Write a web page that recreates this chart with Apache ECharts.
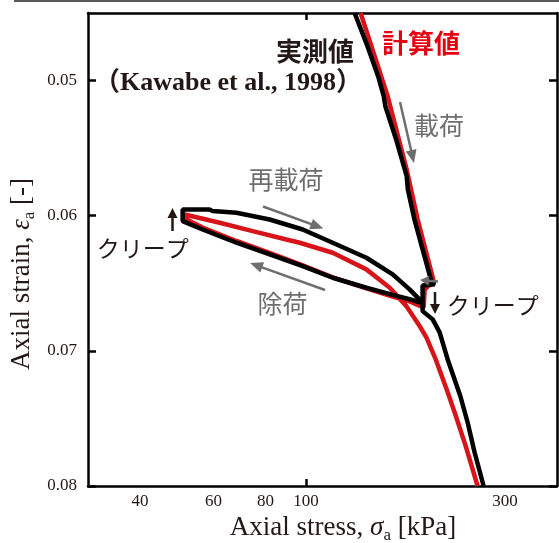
<!DOCTYPE html>
<html><head><meta charset="utf-8">
<script src="https://cdn.jsdelivr.net/npm/echarts@6/dist/echarts.min.js"></script>
<style>html,body{margin:0;padding:0;background:#fff}#c{width:559px;height:543px}</style>
</head><body><div id="c"></div>
<script>
// Tick labels
const xTickLabels = [40, 60, 80, 100, 300];
const xTickMarks = [100];
const yTickLabels = [0.05, 0.06, 0.07, 0.08];

// 実測値 (Kawabe et al., 1998): axial stress [kPa], axial strain [-]
const measuredStress = [130.8, 140.5, 149.0, 153.6, 155.0, 164.5, 174.4, 175.5, 182.0, 190.4, 199.8, 203.5, 190.4, 190.4,
  177.2, 161.4, 139.6, 115.9, 98.2, 81.8, 68.1, 56.5, 50.6,
  50.6,
  58.7, 59.7, 68.1, 81.8, 98.2, 115.9, 139.6, 161.4, 177.2, 187.3, 190.4,
  190.4, 201.3, 209.2, 218.6, 234.5, 244.2, 253.8, 266.7];
const measuredStrain = [0.04500, 0.04747, 0.04969, 0.05116, 0.05190, 0.05436, 0.05708, 0.05806, 0.06028, 0.06249, 0.06484, 0.06508, 0.06516, 0.06649,
  0.06618, 0.06586, 0.06533, 0.06459, 0.06373, 0.06286, 0.06200, 0.06102, 0.06040,
  0.05954,
  0.05954, 0.05966, 0.05978, 0.06028, 0.06102, 0.06200, 0.06311, 0.06434, 0.06545, 0.06621, 0.06656,
  0.06706, 0.06767, 0.06863, 0.07062, 0.07334, 0.07530, 0.07752, 0.08000];

// 計算値
const computedStress = [135.2, 157.0, 174.4, 185.3, 201.3,
  202.4, 192.6, 191.5,
  177.2, 161.4, 139.6, 115.9, 98.2, 81.8, 68.1, 56.5, 51.2,
  51.2,
  62.1, 74.5, 89.7, 96.6, 115.9, 139.6, 158.8, 174.1, 187.3, 194.4, 204.6, 217.4, 227.2, 241.5, 258.0];
const computedStrain = [0.04500, 0.05116, 0.05658, 0.06028, 0.06456,
  0.06486, 0.06545, 0.06678,
  0.06634, 0.06599, 0.06538, 0.06456, 0.06368, 0.06275, 0.06187, 0.06087, 0.06020,
  0.05991,
  0.06052, 0.06114, 0.06176, 0.06200, 0.06274, 0.06397, 0.06533, 0.06669, 0.06816, 0.06900, 0.07062, 0.07284, 0.07454, 0.07703, 0.08000];

const measured = measuredStress.map((s, i) => [s, measuredStrain[i]]);
const computed = computedStress.map((s, i) => [s, computedStrain[i]]);

const serif = "'Liberation Serif', 'DejaVu Serif', serif";
const jp = "'Noto Sans CJK JP', 'Noto Sans', sans-serif";
const dark = '#231815';
const grey = '#6e6e6e';

const axisLineStyle = { color: '#000', width: 2.5 };
const xBase = {
  type: 'log', logBase: 10, min: 30, max: 400,
  axisLine: { show: true, onZero: false, lineStyle: axisLineStyle },
  axisTick: { show: true, inside: true, length: 7, customValues: xTickMarks, lineStyle: axisLineStyle },
  minorTick: { show: false }, splitLine: { show: false }, minorSplitLine: { show: false }
};
const yBase = {
  type: 'value', inverse: true, min: 0.045, max: 0.08,
  axisLine: { show: true, onZero: false, lineStyle: axisLineStyle },
  axisTick: { show: true, inside: true, length: 8, customValues: yTickLabels, lineStyle: axisLineStyle },
  splitLine: { show: false }
};

function arrow(x1, y1, x2, y2, color, w, hl, hw) {
  const dx = x2 - x1, dy = y2 - y1, L = Math.hypot(dx, dy);
  const ux = dx / L, uy = dy / L, nx = -uy, ny = ux;
  const bx = x2 - hl * ux, by = y2 - hl * uy;
  return [
    { type: 'line', shape: { x1, y1, x2: bx + ux, y2: by + uy }, style: { stroke: color, lineWidth: w }, z: 100 },
    { type: 'polygon', shape: { points: [[x2, y2], [bx + hw * nx, by + hw * ny], [bx - hw * nx, by - hw * ny]] }, style: { fill: color }, z: 100 }
  ];
}
function txt(x, y, text, size, fill, family, weight, align) {
  return { type: 'text', x, y, z: 100, style: { text, fontSize: size, fill, fontFamily: family, fontWeight: weight || 'normal', align: align || 'center', verticalAlign: 'middle' } };
}
const nameRich = {
  n: { fontSize: 27, fontFamily: serif, fill: dark, lineHeight: 32 },
  i: { fontSize: 27, fontFamily: serif, fontStyle: 'italic', fill: dark, lineHeight: 32 },
  s: { fontSize: 17, fontFamily: serif, fill: dark, lineHeight: 21, verticalAlign: 'bottom' }
};

const graphics = [
  { type: 'line', shape: { x1: 14, y1: 1, x2: 559, y2: 1 }, style: { stroke: '#595757', lineWidth: 2 }, z: 100 },
  txt(354, 51.5, '実測値', 26, dark, jp, 'bold', 'right'),
  txt(382, 43.5, '計算値', 26, '#e60012', jp, 'bold', 'left'),
  txt(228, 83.5, '（Kawabe et al., 1998）', 26, dark, serif + ", 'Noto Sans CJK JP'", 'bold'),
  txt(439, 125, '載荷', 25, grey, jp),
  txt(286, 179, '再載荷', 25, grey, jp),
  txt(282.5, 303, '除荷', 25, grey, jp),
  txt(142.8, 248.3, 'クリープ', 23, dark, jp),
  txt(492.8, 305, 'クリープ', 23, dark, jp),
  ...arrow(400, 102, 414, 163, grey, 2.5, 13, 5.5),
  ...arrow(263, 206.5, 323.3, 228.5, grey, 2.5, 13, 5.5),
  ...arrow(325, 290, 250, 263, grey, 2.5, 13, 5.5),
  ...arrow(438, 281.5, 420, 280, grey, 2.5, 9, 5),
  ...arrow(172.5, 231, 172.5, 208, dark, 2.5, 10, 5),
  ...arrow(435, 292, 435, 314, dark, 2.5, 10, 5),
  {
    type: 'text', x: 343, y: 528, z: 100,
    style: { text: '{n|Axial stress, }{i|σ}{s|a}{n| [kPa]}', align: 'center', verticalAlign: 'middle', rich: nameRich }
  },
  {
    type: 'text', x: 22, y: 274, z: 100, rotation: Math.PI / 2,
    style: { text: '{n|Axial strain, }{i|ε}{s|a}{n| [-]}', align: 'center', verticalAlign: 'middle', rich: nameRich }
  }
];

const chart = echarts.init(document.getElementById('c'), null, { renderer: 'canvas' });
chart.setOption({
  animation: false,
  backgroundColor: '#fff',
  grid: { left: 88, right: 2, top: 13, bottom: 57, containLabel: false, outerBoundsMode: 'none' },
  xAxis: [
    Object.assign({}, xBase, { position: 'bottom', axisLabel: { show: true, customValues: xTickLabels, margin: 7, color: dark, fontSize: 17, fontFamily: serif, formatter: v => String(Math.round(v)) } }),
    Object.assign({}, xBase, { position: 'top', axisLabel: { show: false } })
  ],
  yAxis: [
    Object.assign({}, yBase, { position: 'left', axisLabel: { show: true, customValues: yTickLabels, margin: 11, color: dark, fontSize: 17, fontFamily: serif, formatter: v => v.toFixed(2) } }),
    Object.assign({}, yBase, { position: 'right', axisLabel: { show: false } })
  ],
  series: [
    { type: 'line', name: '計算値', data: computed, symbol: 'none', lineStyle: { color: '#d7141a', width: 4.5 }, z: 2 },
    { type: 'line', name: '実測値', data: measured, symbol: 'none', lineStyle: { color: '#000', width: 4.5 }, z: 3 }
  ],
  graphic: graphics
});
</script></body></html>
